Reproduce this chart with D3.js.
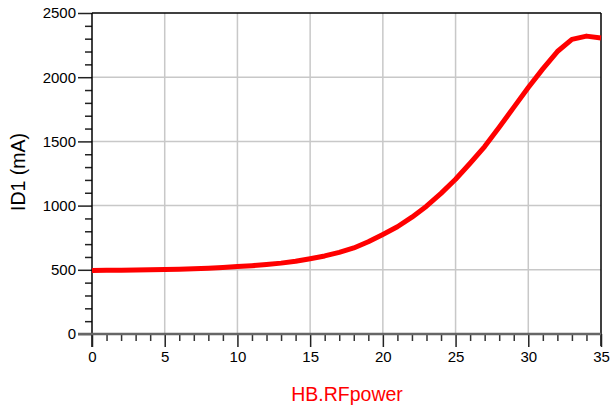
<!DOCTYPE html>
<html><head><meta charset="utf-8">
<script src="https://cdn.jsdelivr.net/npm/d3@7"></script>
<style>body{margin:0;background:#fff}svg{display:block;font-family:"Liberation Sans",Arial,sans-serif}</style>
</head><body><svg id="c" width="612" height="407"></svg>
<script>
const xValues = [0,1,2,3,4,5,6,7,8,9,10,11,12,13,14,15,16,17,18,19,20,21,22,23,24,25,26,27,28,29,30,31,32,33,34,35];
const id1Values = [495,496,497,498,500,502,505,508,512,518,525,532,541,552,566,586,608,636,670,718,775,835,910,995,1095,1205,1330,1460,1610,1765,1920,2065,2200,2295,2320,2305];
const xTicks = [0,5,10,15,20,25,30,35];
const yTicks = [0,500,1000,1500,2000,2500];
const xTitle = "HB.RFpower";
const yTitle = "ID1 (mA)";

const svg = d3.select("#c");
const L=92, R=601, T=13, B=334;
const x = d3.scaleLinear().domain([0,35]).range([L,R]);
const y = d3.scaleLinear().domain([0,2500]).range([B,T]);

// grid
const g = svg.append("g");
g.selectAll(".vg").data(xTicks.slice(1,-1)).join("line")
  .attr("x1",d=>x(d)).attr("x2",d=>x(d)).attr("y1",T).attr("y2",B)
  .attr("stroke","#c8c8c8").attr("stroke-width",1.5);
g.selectAll(".hg").data(yTicks.slice(1,-1)).join("line")
  .attr("x1",L).attr("x2",R).attr("y1",d=>y(d)).attr("y2",d=>y(d))
  .attr("stroke","#c8c8c8").attr("stroke-width",1.5);

// frame top/right
svg.append("line").attr("x1",L).attr("x2",R).attr("y1",T).attr("y2",T).attr("stroke","#000").attr("stroke-width",1.5);
svg.append("line").attr("x1",R).attr("x2",R).attr("y1",T).attr("y2",B+12).attr("stroke","#000").attr("stroke-width",1.5);

// y axis
const yMinor = d3.range(0,2501,100).filter(v=>v%500!==0);
svg.append("g").attr("transform",`translate(${L},0)`)
  .call(d3.axisLeft(y).tickValues(yMinor).tickSize(7).tickFormat(""))
  .call(a=>a.select(".domain").remove())
  .call(a=>a.selectAll("line").attr("stroke","#222").attr("stroke-width",1.5));
const ya = svg.append("g").attr("transform",`translate(${L},0)`)
  .call(d3.axisLeft(y).tickValues(yTicks).tickSize(14).tickPadding(2).tickFormat(d3.format("d")));
ya.select(".domain").remove();
ya.selectAll("line").attr("stroke","#222").attr("stroke-width",1.5);
ya.selectAll("text").attr("font-size",15).attr("fill","#000").attr("font-family","Liberation Sans, Arial, sans-serif");
svg.append("line").attr("x1",L).attr("x2",L).attr("y1",T).attr("y2",B+13).attr("stroke","#000").attr("stroke-width",1.5);

// x axis
const xMinor = d3.range(0,36,1).filter(v=>v%5!==0);
svg.append("g").attr("transform",`translate(0,${B})`)
  .call(d3.axisBottom(x).tickValues(xMinor).tickSize(7).tickFormat(""))
  .call(a=>a.select(".domain").remove())
  .call(a=>a.selectAll("line").attr("stroke","#333").attr("stroke-width",1.5));
const xa = svg.append("g").attr("transform",`translate(0,${B})`)
  .call(d3.axisBottom(x).tickValues(xTicks).tickSize(13).tickPadding(4).tickFormat(d3.format("d")));
xa.select(".domain").remove();
xa.selectAll("line").attr("stroke","#222").attr("stroke-width",1.5);
xa.selectAll("text").attr("font-size",15).attr("fill","#000").attr("font-family","Liberation Sans, Arial, sans-serif");
svg.append("line").attr("x1",L-14).attr("x2",R).attr("y1",B).attr("y2",B).attr("stroke","#666").attr("stroke-width",2.5);

// line
const data = xValues.map((v,i)=>({x:v,y:id1Values[i]}));
svg.append("path").datum(data)
  .attr("d",d3.line().x(d=>x(d.x)).y(d=>y(d.y)))
  .attr("fill","none").attr("stroke","#ff0000").attr("stroke-width",5).attr("stroke-linejoin","round");

// titles
svg.append("text").attr("x",347).attr("y",400.5).attr("text-anchor","middle")
  .attr("font-size",19.5).attr("fill","#ff0000").text(xTitle);
svg.append("text").attr("transform","translate(24.5,172) rotate(-90)").attr("text-anchor","middle")
  .attr("font-size",19.5).attr("fill","#000").text(yTitle);
</script></body></html>
